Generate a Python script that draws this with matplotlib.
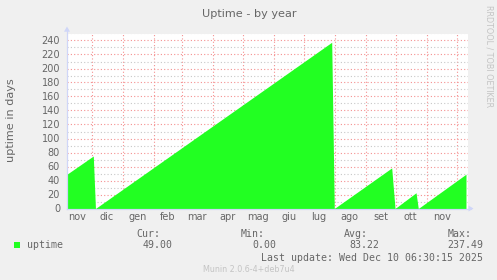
import matplotlib
matplotlib.use('Agg')
import matplotlib.pyplot as plt
import matplotlib.dates as mdates
from matplotlib.patches import Polygon, Rectangle
from matplotlib.lines import Line2D
from matplotlib.ticker import FixedLocator, FixedFormatter, NullFormatter, MultipleLocator
import pandas as pd

# ---- data ----
uptime_dates = ['2024-11-06 07:00', '2024-12-02 14:00', '2024-12-04 18:00',
                '2025-07-29 00:00', '2025-07-31 14:00', '2025-09-27 00:00',
                '2025-09-30 08:00', '2025-10-21 08:00', '2025-10-23 14:00',
                '2025-12-10 06:30']
uptime_values = [49, 75, 0, 237.49, 0, 58, 0, 22.5, 0, 49]

month_starts = ['2024-12-01', '2025-01-01', '2025-02-01', '2025-03-01', '2025-04-01',
                '2025-05-01', '2025-06-01', '2025-07-01', '2025-08-01', '2025-09-01',
                '2025-10-01', '2025-11-01', '2025-12-01']
label_dates = ['2024-11-16', '2024-12-16', '2025-01-16', '2025-02-15', '2025-03-16',
               '2025-04-16', '2025-05-16', '2025-06-16', '2025-07-16', '2025-08-16',
               '2025-09-16', '2025-10-16', '2025-11-16']
month_labels = ['nov', 'dic', 'gen', 'feb', 'mar', 'apr', 'mag', 'giu', 'lug',
                'ago', 'set', 'ott', 'nov']
y_major = list(range(0, 241, 20))
x_range = ['2024-11-06 07:00', '2025-12-12 07:00']
y_range = [0, 250]

series_name = 'uptime'
stat_names = ['Cur:', 'Min:', 'Avg:', 'Max:']
stat_values = ['49.00', '0.00', '83.22', '237.49']
last_update = 'Last update: Wed Dec 10 06:30:15 2025'
footer = 'Munin 2.0.6-4+deb7u4'
side_text = 'RRDTOOL / TOBI OETIKER'
title = 'Uptime - by year'
ylabel = 'uptime in days'

# ---- style ----
W, H = 497, 280
BG = '#F0F0F0'
FONT = '#666666'
AXIS = '#CFD6F8'
GREEN = '#22FF22'
MGRID = '#F59090'
GRID = '#C8C8C8'

def fx(px):
    return px / W

def fy(py):
    return 1 - py / H

fig = plt.figure(figsize=(W / 100, H / 100), dpi=100, facecolor=BG)
left, right, top, bottom = 67, 468, 33.5, 208.5
ax = fig.add_axes([fx(left), fy(bottom), (right - left) / W, (bottom - top) / H])
ax.set_facecolor('white')

x = mdates.date2num(pd.to_datetime(uptime_dates))
ax.fill_between(x, 0, uptime_values, color=GREEN, linewidth=0, zorder=2)

ax.set_xlim(mdates.date2num(pd.to_datetime(x_range)))
ax.set_ylim(*y_range)

ax.xaxis.set_major_locator(FixedLocator(mdates.date2num(pd.to_datetime(month_starts))))
ax.xaxis.set_major_formatter(NullFormatter())
ax.xaxis.set_minor_locator(FixedLocator(mdates.date2num(pd.to_datetime(label_dates))))
ax.xaxis.set_minor_formatter(FixedFormatter(month_labels))
ax.yaxis.set_major_locator(FixedLocator(y_major))
ax.yaxis.set_minor_locator(MultipleLocator(10))

dot = (0, (1, 2))
ax.set_axisbelow(True)
ax.grid(which='minor', axis='y', color=GRID, linestyle=dot, linewidth=0.8)
ax.grid(which='major', axis='y', color=MGRID, linestyle=dot, linewidth=0.8)
ax.grid(which='major', axis='x', color=MGRID, linestyle=dot, linewidth=0.8)
ax.grid(which='minor', axis='x', visible=False)

ax.tick_params(axis='y', which='both', length=0, pad=5, labelsize=7, labelcolor=FONT)
ax.tick_params(axis='x', which='both', length=0, pad=2.5, labelsize=7, labelcolor=FONT)

for s in ['top', 'right']:
    ax.spines[s].set_visible(False)
for s in ['left', 'bottom']:
    ax.spines[s].set_color(AXIS)
    ax.spines[s].set_linewidth(0.8)
    ax.spines[s].set_zorder(3)

# axis extensions and arrows
fig.add_artist(Line2D([fx(left), fx(471)], [fy(bottom), fy(bottom)], color=AXIS, lw=0.8))
fig.add_artist(Line2D([fx(left), fx(left)], [fy(bottom), fy(29)], color=AXIS, lw=0.8))
fig.add_artist(Polygon([[fx(left - 3), fy(31.7)], [fx(left + 3), fy(31.7)], [fx(left), fy(26.5)]],
                       closed=True, facecolor=AXIS, edgecolor='none'))
fig.add_artist(Polygon([[fx(468.5), fy(bottom - 3)], [fx(468.5), fy(bottom + 3)], [fx(473.5), fy(bottom)]],
                       closed=True, facecolor=AXIS, edgecolor='none'))

# texts
fig.text(fx(249), fy(16.7), title, ha='center', va='baseline', fontsize=8.1, color=FONT)
fig.text(fx(11), fy(120), ylabel, rotation=90, ha='center', va='center', fontsize=8.1, color=FONT)
fig.text(fx(488.5), fy(5), side_text, rotation=270, ha='center', va='top', fontsize=5.8, color='#C4C4C4')

mono = 'DejaVu Sans Mono'
hdr_x = [136.7, 240.7, 344, 447.7]
val_x = [142.7, 252.7, 349.3, 447.7]
for name, hx in zip(stat_names, hdr_x):
    fig.text(fx(hx), fy(237.3), name, ha='left', va='baseline', fontsize=7.1, color=FONT, family=mono)
for v, vx in zip(stat_values, val_x):
    fig.text(fx(vx), fy(248.3), v, ha='left', va='baseline', fontsize=7.1, color=FONT, family=mono)
fig.text(fx(26.7), fy(248.3), series_name, ha='left', va='baseline', fontsize=7.1, color=FONT, family=mono)
fig.add_artist(Rectangle((fx(14), fy(248.3)), 6 / W, 6 / H, facecolor=GREEN, edgecolor='none'))
fig.text(fx(483.3), fy(261), last_update, ha='right', va='baseline', fontsize=7.1, color=FONT, family=mono)
fig.text(fx(249), fy(272), footer, ha='center', va='baseline', fontsize=5.8, color='#C4C4C4')

fig.savefig('out.png', dpi=100, facecolor=BG)
